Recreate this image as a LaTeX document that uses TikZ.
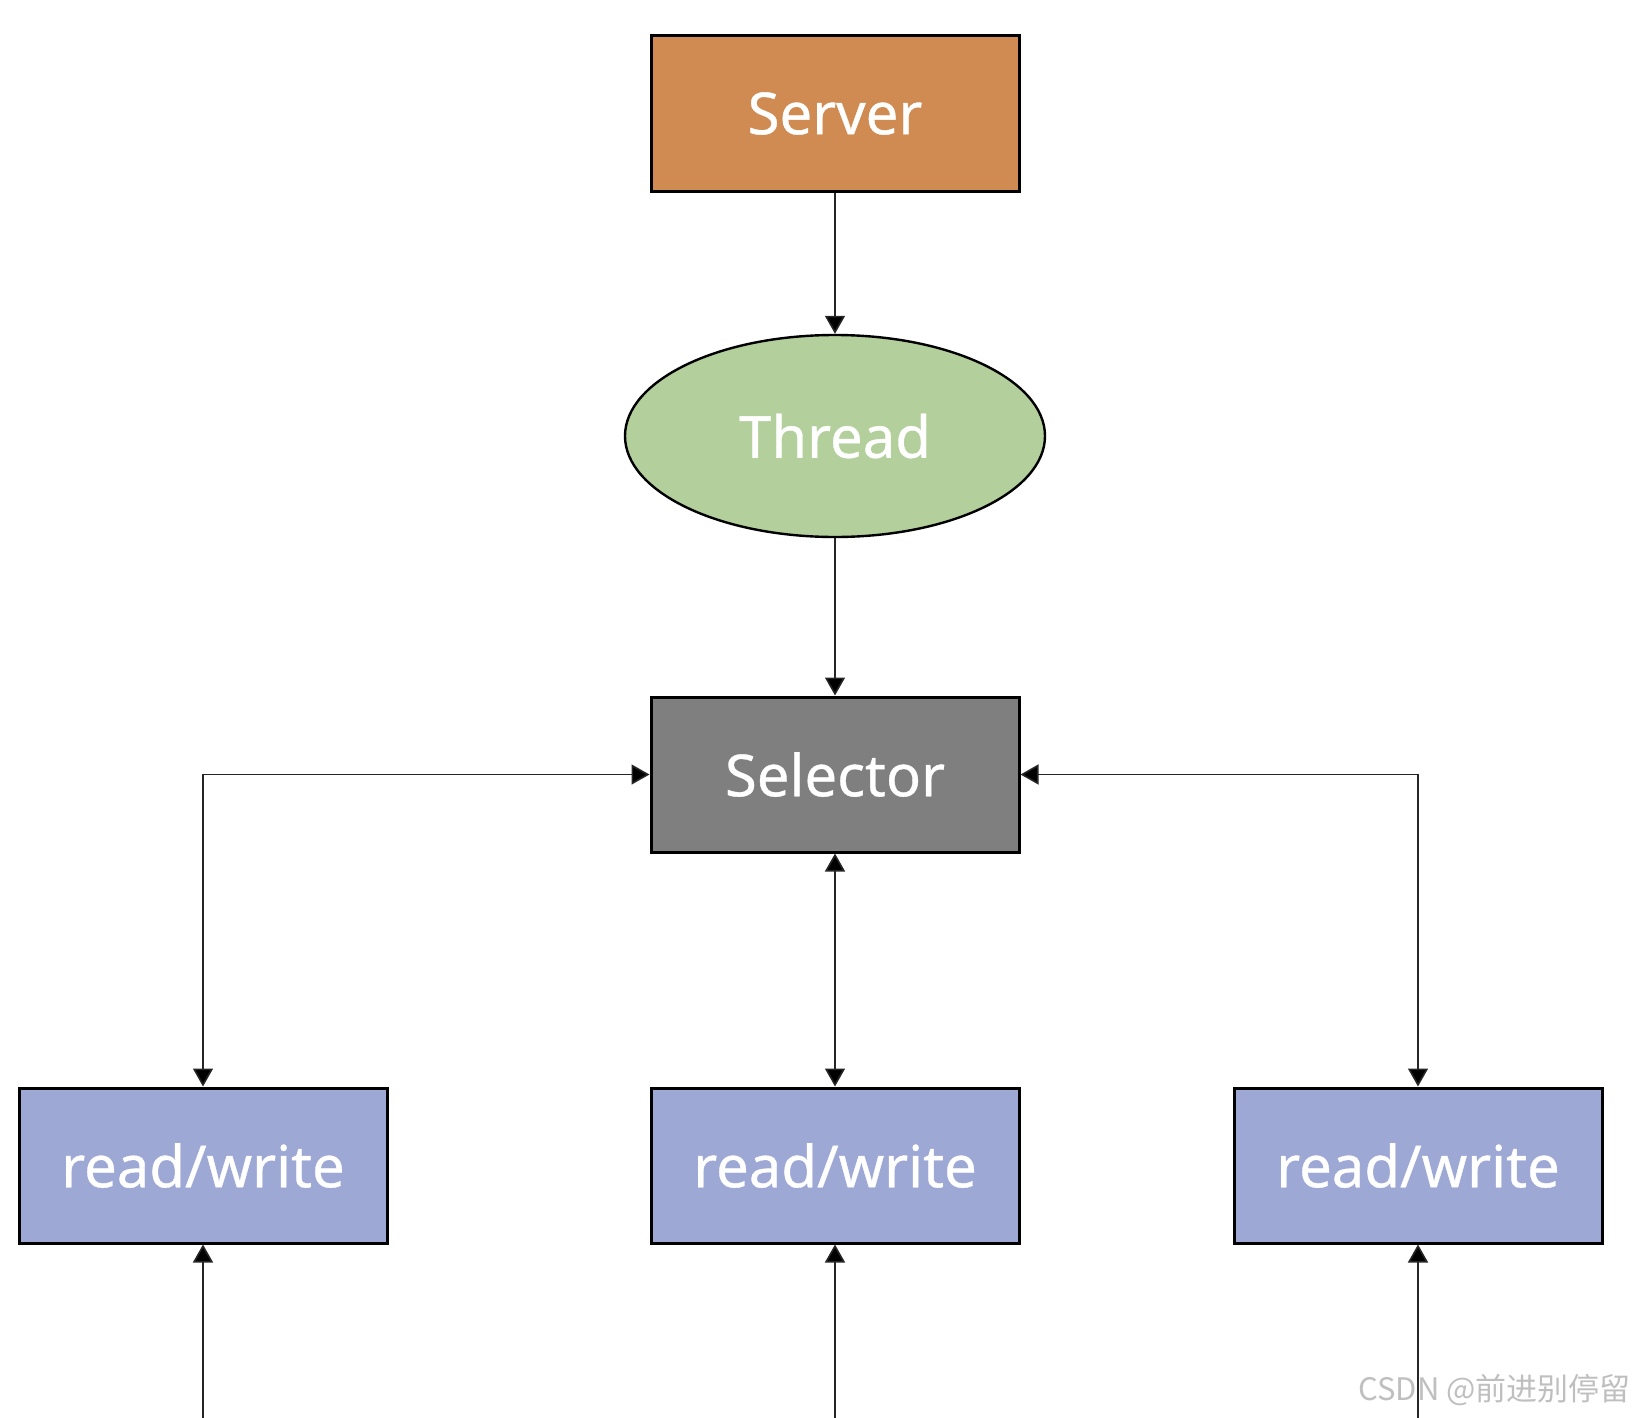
\documentclass[tikz,border=0pt]{standalone}
\usepackage{fontspec}
\setmainfont{Noto Sans}[FakeBold=0.6]
\newfontfamily\cjkfont{Noto Sans CJK SC}
\usetikzlibrary{positioning,arrows.meta,shapes.geometric}
\definecolor{servercol}{RGB}{208,139,82}
\definecolor{threadcol}{RGB}{179,207,155}
\definecolor{selectcol}{RGB}{127,127,127}
\definecolor{rwcol}{RGB}{157,168,213}

\begin{document}
\begin{tikzpicture}[x=0.5pt, y=-0.5pt,
boxnode/.style={rectangle, draw=black, line width=1.5pt, minimum width=184pt, minimum height=77.5pt, text=white, font=\fontsize{29}{32}\selectfont},
ovalnode/.style={ellipse, draw=black, line width=1.2pt, minimum width=210pt, minimum height=101pt, text=white, font=\fontsize{29}{32}\selectfont},
link/.style={draw=black!85, line width=0.8pt, -{Triangle[width=10pt,length=9pt,fill=black]}},
twoway/.style={link, {Triangle[width=10pt,length=9pt,fill=black]}-{Triangle[width=10pt,length=9pt,fill=black]}}
]
    \useasboundingbox (0,0) rectangle (1644,1418);
    %Nodes
    \node[boxnode, fill=servercol]  (server)   at (835,113.5) {Server};
    \node[ovalnode, fill=threadcol] (thread)   at (835,436)   {Thread};
    \node[boxnode, fill=selectcol]  (selector) at (835,774.5) {Selector};
    \node[boxnode, fill=rwcol]      (rwleft)   at (203,1165.5) {read/write};
    \node[boxnode, fill=rwcol]      (rwmid)    at (835,1165.5) {read/write};
    \node[boxnode, fill=rwcol]      (rwright)  at (1418,1165.5) {read/write};
    \coordinate (inleft)  at (203,1418);
    \coordinate (inmid)   at (835,1418);
    \coordinate (inright) at (1418,1418);
    \node[anchor=east, text=black!25, font=\cjkfont\fontsize{15.5}{18}\selectfont]
        (mark) at (1638,1390) {CSDN @前进别停留};

    %Lines
    \draw[link] (server) -- (thread);
    \draw[link] (thread) -- (selector);
    \draw[twoway] (selector) -- (rwmid);
    \draw[twoway] (selector.west) -| (rwleft.north);
    \draw[twoway] (selector.east) -| (rwright.north);
    \draw[link] (inleft) -- (rwleft);
    \draw[link] (inmid) -- (rwmid);
    \draw[link] (inright) -- (rwright);
\end{tikzpicture}
\end{document}
